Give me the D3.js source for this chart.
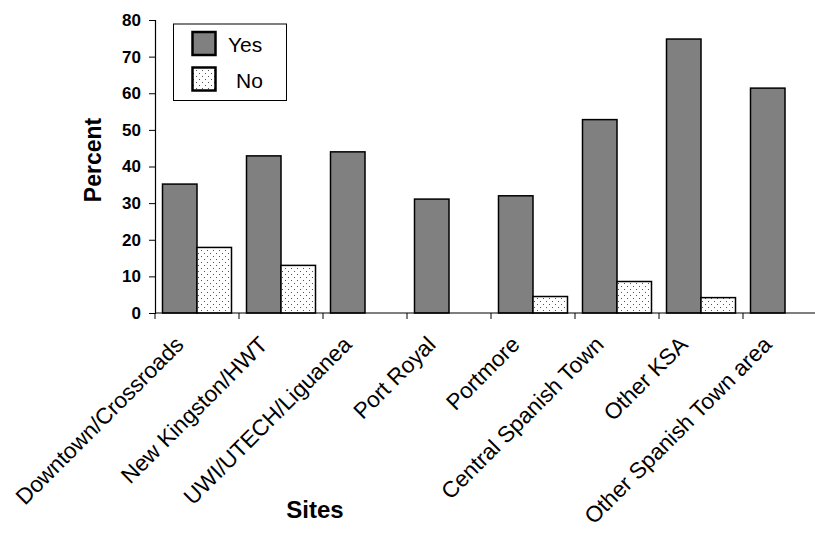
<!DOCTYPE html>
<html>
<head>
<meta charset="utf-8">
<script src="https://cdn.jsdelivr.net/npm/d3@7"></script>
<style>
  body { margin: 0; background: #fff; }
  svg { display: block; font-family: "Liberation Sans", Arial, sans-serif; }
</style>
</head>
<body>
<div id="chart"></div>
<script>
const sites = ["Downtown/Crossroads", "New Kingston/HWT", "UWI/UTECH/Liguanea", "Port Royal",
  "Portmore", "Central Spanish Town", "Other KSA", "Other Spanish Town area"];
const yesValues = [35.2, 42.9, 44.0, 31.1, 32.0, 52.8, 74.8, 61.4];
const noValues = [17.9, 13.0, null, null, 4.5, 8.6, 4.2, null];
const seriesNames = ["Yes", "No"];
const yTicks = [0, 10, 20, 30, 40, 50, 60, 70, 80];

const width = 815, height = 533;
const svg = d3.select("#chart").append("svg")
  .attr("width", width)
  .attr("height", height);

const defs = svg.append("defs");
const pat = defs.append("pattern")
  .attr("id", "dots")
  .attr("patternUnits", "userSpaceOnUse")
  .attr("width", 6)
  .attr("height", 6);
pat.append("rect").attr("width", 6).attr("height", 6).attr("fill", "#fff");
pat.append("rect").attr("x", 1).attr("y", 1).attr("width", 1).attr("height", 1).attr("fill", "#555");
pat.append("rect").attr("x", 4).attr("y", 4).attr("width", 1).attr("height", 1).attr("fill", "#555");

const fills = { Yes: "#808080", No: "url(#dots)" };

const x0 = d3.scaleBand().domain(sites).range([155, 827]);
const x1 = d3.scaleBand().domain(seriesNames).range([7.5, x0.bandwidth() - 7.5]);
const y = d3.scaleLinear().domain([0, 80]).range([313, 20]);

const rows = sites.map((s, i) => ({ site: s, Yes: yesValues[i], No: noValues[i] }));

// bars
const groups = svg.append("g").selectAll("g")
  .data(rows)
  .join("g")
  .attr("transform", d => `translate(${x0(d.site)},0)`);

groups.selectAll("rect")
  .data(d => seriesNames.filter(k => d[k] != null).map(k => ({ key: k, value: d[k] })))
  .join("rect")
  .attr("x", d => x1(d.key))
  .attr("width", x1.bandwidth())
  .attr("y", d => y(d.value))
  .attr("height", d => y(0) - y(d.value))
  .attr("fill", d => fills[d.key])
  .attr("stroke", "#000")
  .attr("stroke-width", 1.5);

// y axis
const yAxis = svg.append("g")
  .attr("transform", "translate(155,0)")
  .call(d3.axisLeft(y).tickValues(yTicks).tickSize(6).tickPadding(8));
yAxis.select(".domain").attr("stroke", "#000").attr("stroke-width", 1.2);
yAxis.selectAll(".tick line").attr("stroke", "#000");
yAxis.selectAll("text")
  .attr("font-size", 17)
  .attr("font-weight", "bold")
  .attr("fill", "#000")
  .attr("font-family", "Liberation Sans, Arial, sans-serif");

// x axis line + boundary ticks
svg.append("line")
  .attr("x1", 155).attr("x2", 827)
  .attr("y1", y(0)).attr("y2", y(0))
  .attr("stroke", "#000").attr("stroke-width", 1.2);

svg.append("g").selectAll("line")
  .data(sites)
  .join("line")
  .attr("x1", d => x0(d)).attr("x2", d => x0(d))
  .attr("y1", y(0)).attr("y2", y(0) + 6)
  .attr("stroke", "#000");

svg.append("g").selectAll("text")
  .data(sites)
  .join("text")
  .attr("transform", d => `translate(${x0(d) + x0.bandwidth() / 2 - 12},${y(0) + 33}) rotate(-45)`)
  .attr("text-anchor", "end")
  .attr("font-size", 22.5)
  .attr("fill", "#000")
  .text(d => d);

// axis titles
svg.append("text")
  .attr("x", 315)
  .attr("y", 518)
  .attr("text-anchor", "middle")
  .attr("font-size", 24)
  .attr("font-weight", "bold")
  .text("Sites");

svg.append("text")
  .attr("transform", "translate(101,160) rotate(-90)")
  .attr("text-anchor", "middle")
  .attr("font-size", 23)
  .attr("font-weight", "bold")
  .text("Percent");

// legend
const legend = svg.append("g");
legend.append("rect")
  .attr("x", 173.5).attr("y", 24)
  .attr("width", 113).attr("height", 76.5)
  .attr("fill", "#fff").attr("stroke", "#000").attr("stroke-width", 1);

const legendItems = [
  { key: "Yes", y: 32, tx: 228 },
  { key: "No", y: 67.5, tx: 236 }
];
legendItems.forEach(item => {
  legend.append("rect")
    .attr("x", 192.5).attr("y", item.y)
    .attr("width", 23).attr("height", 23)
    .attr("fill", fills[item.key])
    .attr("stroke", "#000").attr("stroke-width", 2.5);
  legend.append("text")
    .attr("x", item.tx).attr("y", item.y + 20)
    .attr("font-size", 21)
    .text(item.key);
});
</script>
</body>
</html>
